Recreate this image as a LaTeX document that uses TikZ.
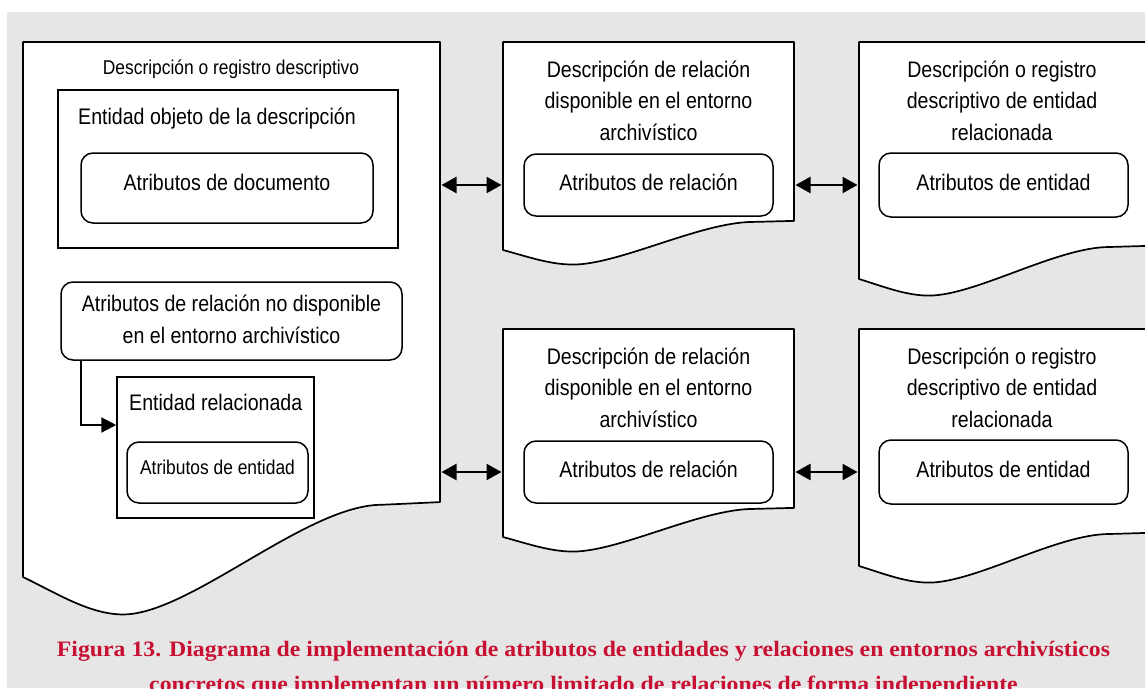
\documentclass[tikz,border=0pt]{standalone}
\usepackage{fontspec}
\setmainfont{Liberation Sans}
\newfontfamily\narrowfont[FakeStretch=0.87]{Liberation Sans}
\newfontfamily\capfont[FakeStretch=1.08]{Liberation Serif}
\usetikzlibrary{arrows.meta}
\definecolor{bggray}{RGB}{230,230,230}
\definecolor{capred}{RGB}{200,16,50}
\tikzset{
  docline/.style={draw=black, fill=white, line width=1.7pt, line join=round},
  txt/.style={font=\narrowfont\fontsize{22.5}{31.5}\selectfont, inner sep=0pt, anchor=base, align=center},
  smalltxt/.style={font=\narrowfont\fontsize{20}{28}\selectfont, inner sep=0pt, anchor=base},
  rbox/.style={draw, line width=1.5pt, rounded corners=12pt, fill=white, inner sep=0pt},
  sbox/.style={draw, line width=1.5pt, fill=white, inner sep=0pt},
  biarrow/.style={line width=2.4pt, {Triangle[length=15pt,width=16pt]}-{Triangle[length=15pt,width=16pt]}, shorten <=1.5pt, shorten >=1.5pt},
  onearrow/.style={line width=2.2pt, -{Triangle[length=15pt,width=15pt]}},
  captxt/.style={font=\capfont\bfseries\fontsize{22}{35}\selectfont, text=capred, inner sep=0pt, anchor=base, align=center}
}
\newcommand\docpath[4]{%
  \begin{scope}[shift={(#1,#2)}, x=#3pt, y=-#4pt]
    \draw[docline] (1,0) -- (0,0) -- (0,1) .. controls (0.08,1.03) and (0.16,1.07) .. (0.24,1.07) .. controls (0.40,1.07) and (0.68,0.865) .. (0.86,0.865) -- (1,0.86) -- cycle;
  \end{scope}}
\begin{document}
\begin{tikzpicture}[x=1pt, y=-1pt]
\useasboundingbox (0,0) rectangle (1145,688);
\fill[bggray] (7,12) rectangle (1145,688);
\begin{scope}
\clip (0,0) rectangle (1145,688);
% document shapes
\docpath{23}{42}{417}{535}
\docpath{503}{42}{291}{208}
\docpath{859}{42}{291}{237}
\docpath{503}{329}{291}{208}
\docpath{859}{329}{291}{237}
\end{scope}

% left document
\node[smalltxt] (t0) at (231,74) {Descripción o registro descriptivo};
\node[sbox, minimum width=340pt, minimum height=158pt, anchor=north west] (entobj) at (57,89) {};
\node[txt, anchor=base west] (t1) at (78,124) {Entidad objeto de la descripción};
\node[rbox, minimum width=292pt, minimum height=70pt] (attdoc) at (227,188) {};
\node[txt] (t2) at (227,190) {Atributos de documento};
\node[rbox, minimum width=341pt, minimum height=78pt] (relnd) at (231.5,321) {};
\node[txt] (t3) at (231.5,343) {Atributos de relación no disponible\\en el entorno archivístico};
\node[sbox, minimum width=197pt, minimum height=141pt] (entrel) at (215.5,447.5) {};
\node[txt, anchor=base west] (t4) at (129,410) {Entidad relacionada};
\node[rbox, minimum width=181pt, minimum height=61pt] (attent0) at (217.5,472.5) {};
\node[smalltxt] (t5) at (217.5,474) {Atributos de entidad};
\coordinate (cstart) at (81,360);
\coordinate (cbend) at (81,425);
\draw[onearrow] (cstart) |- (entrel.west |- cbend);

% top row
\node[txt] (m1) at (648.5,140) {Descripción de relación\\disponible en el entorno\\archivístico};
\node[rbox, minimum width=249pt, minimum height=62pt] (rel1) at (648.5,185) {};
\node[txt] (m1b) at (648.5,190) {Atributos de relación};
\node[txt] (r1) at (1002,140) {Descripción o registro\\descriptivo de entidad\\relacionada};
\node[rbox, minimum width=249pt, minimum height=64pt] (ent1) at (1003.5,185) {};
\node[txt] (r1b) at (1003.5,190) {Atributos de entidad};

% bottom row
\node[txt] (m2) at (648.5,427) {Descripción de relación\\disponible en el entorno\\archivístico};
\node[rbox, minimum width=249pt, minimum height=62pt] (rel2) at (648.5,472) {};
\node[txt] (m2b) at (648.5,477) {Atributos de relación};
\node[txt] (r2) at (1002,427) {Descripción o registro\\descriptivo de entidad\\relacionada};
\node[rbox, minimum width=249pt, minimum height=64pt] (ent2) at (1003.5,472) {};
\node[txt] (r2b) at (1003.5,477) {Atributos de entidad};

% arrow ends on document borders
\coordinate (d0a) at (440,185);
\coordinate (d1a) at (503,185);
\coordinate (d1b) at (794,185);
\coordinate (d2a) at (859,185);
\coordinate (d0c) at (440,472);
\coordinate (d3a) at (503,472);
\coordinate (d3b) at (794,472);
\coordinate (d4a) at (859,472);
\draw[biarrow] (d0a) -- (d1a);
\draw[biarrow] (d1b) -- (d2a);
\draw[biarrow] (d0c) -- (d3a);
\draw[biarrow] (d3b) -- (d4a);

% caption
\node[captxt] (cap) at (583.5,691) {Figura 13. Diagrama de implementación de atributos de entidades y relaciones en entornos archivísticos\\concretos que implementan un número limitado de relaciones de forma independiente};
\end{tikzpicture}
\end{document}
